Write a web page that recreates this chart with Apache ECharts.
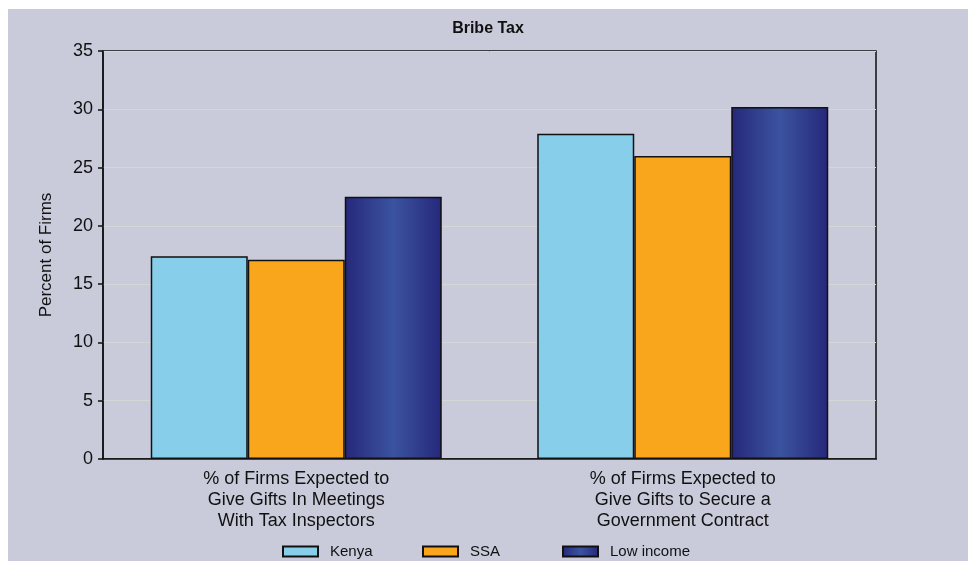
<!DOCTYPE html>
<html>
<head>
<meta charset="utf-8">
<script src="https://cdn.jsdelivr.net/npm/echarts@6/dist/echarts.min.js"></script>
<style>
html,body{margin:0;padding:0;background:#ffffff;}
#wrap{position:absolute;left:0;top:0;width:979px;height:561px;background:#ffffff;}
#chart{position:absolute;left:8px;top:9px;width:960px;height:552px;background:#C9CBDB;}
</style>
</head>
<body>
<div id="wrap"><div id="chart"></div></div>
<script>
const categories = [
  "% of Firms Expected to\nGive Gifts In Meetings\nWith Tax Inspectors",
  "% of Firms Expected to\nGive Gifts to Secure a\nGovernment Contract"
];
const seriesNames = ["Kenya", "SSA", "Low income"];
const kenya = [17.4, 27.9];
const ssa = [17.1, 26.0];
const lowIncome = [22.5, 30.2];
const yTicks = [0, 5, 10, 15, 20, 25, 30, 35];

const FONT = "Liberation Sans";
const chart = echarts.init(document.getElementById('chart'), null, {renderer: 'canvas'});
const lowGrad = new echarts.graphic.LinearGradient(0, 0, 1, 0, [
  {offset: 0, color: '#26287A'},
  {offset: 0.5, color: '#3B53A0'},
  {offset: 1, color: '#26287A'}
]);
const barBorder = {borderColor: '#111111', borderWidth: 1.5};
const legendLefts = [274, 414, 554];
chart.setOption({
  animation: false,
  backgroundColor: '#C9CBDB',
  title: {
    text: 'Bribe Tax', left: 'center', top: 7,
    textStyle: {fontFamily: FONT, fontSize: 16, fontWeight: 'bold', color: '#111'}
  },
  grid: {
    left: 95, top: 42, right: 92, bottom: 102,
    show: true, borderColor: '#111', borderWidth: 1.5, backgroundColor: 'transparent'
  },
  legend: seriesNames.map((n, i) => ({
    data: [n], left: legendLefts[i], top: 535, itemWidth: 35, itemHeight: 10,
    icon: 'rect', itemGap: 12, padding: 0,
    textStyle: {fontFamily: FONT, fontSize: 15, color: '#111', padding: [0, 0, 0, 7]}
  })),
  xAxis: {
    type: 'category', data: categories,
    axisTick: {show: false},
    axisLine: {lineStyle: {color: '#111', width: 1.5}},
    axisLabel: {fontFamily: FONT, fontSize: 18, color: '#111', lineHeight: 21, margin: 10, interval: 0}
  },
  yAxis: {
    type: 'value', min: yTicks[0], max: yTicks[yTicks.length - 1], interval: 5,
    name: 'Percent of Firms', nameLocation: 'middle', nameGap: 48, nameRotate: 90,
    nameTextStyle: {fontFamily: FONT, fontSize: 17, color: '#111'},
    axisLine: {show: true, lineStyle: {color: '#111', width: 1.5}},
    axisTick: {show: true, length: 5, lineStyle: {color: '#111', width: 1.5}},
    axisLabel: {fontFamily: FONT, fontSize: 18, color: '#111', margin: 10},
    splitLine: {show: true, lineStyle: {color: '#D6D6D6', width: 1}}
  },
  series: [
    {name: seriesNames[0], type: 'bar', data: kenya, barWidth: 97, barGap: '0%',
     itemStyle: Object.assign({color: '#87CEEB'}, barBorder)},
    {name: seriesNames[1], type: 'bar', data: ssa, barWidth: 97, barGap: '0%',
     itemStyle: Object.assign({color: '#F9A61C'}, barBorder)},
    {name: seriesNames[2], type: 'bar', data: lowIncome, barWidth: 97, barGap: '0%',
     itemStyle: Object.assign({color: lowGrad}, barBorder)}
  ]
});
</script>
</body>
</html>
